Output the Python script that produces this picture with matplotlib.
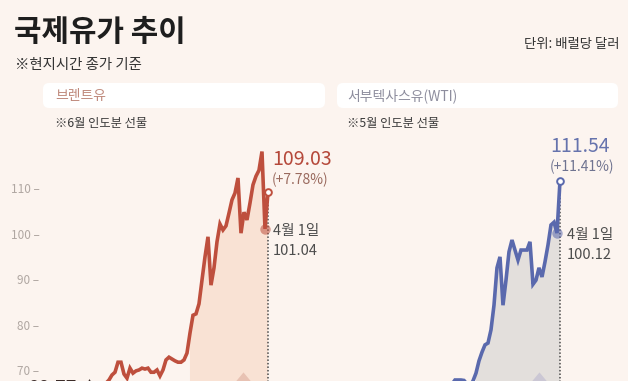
import numpy as np
import matplotlib
matplotlib.use('Agg')
import matplotlib.pyplot as plt
from matplotlib.patches import FancyBboxPatch
from matplotlib.transforms import IdentityTransform

plt.rcParams['font.family'] = ['Noto Sans CJK KR', 'DejaVu Sans']

# 종가 (거래일 순서, 마지막 두 값: 4월 1일, 최근)
brent = [65.3, 66.4, 67.2, 67.9, 69.0, 69.6, 71.8, 71.8, 69.2, 68.3,
         70.5, 69.4, 69.9, 70.1, 70.5, 70.3, 70.5, 69.6, 69.6, 70.1,
         68.8, 70.1, 72.3, 72.9, 72.5, 72.1, 71.8, 71.8, 72.3, 73.8,
         78.2, 82.1, 82.4, 84.6, 89.8, 94.9, 99.3, 88.7, 92.5, 98.2,
         102.1, 100.8, 101.7, 104.5, 107.4, 108.9, 112.2, 100.1, 104.7, 103.0,
         106.7, 110.7, 112.6, 113.9, 118.0, 101.04, 109.03]
wti = [64.8, 65.4, 66.0, 66.3, 66.8, 66.9, 66.9, 66.8, 65.9, 65.2,
       66.6, 66.0, 66.3, 66.5, 66.8, 66.6, 66.9, 66.2, 66.1, 66.4,
       67.0, 67.9, 67.9, 67.9, 67.8, 67.0, 66.6, 67.7, 69.4, 72.1,
       74.0, 75.6, 76.0, 78.9, 84.3, 92.5, 94.9, 84.3, 89.8, 96.0,
       98.6, 96.4, 94.2, 96.4, 96.4, 96.4, 98.2, 88.9, 89.8, 92.5,
       90.5, 93.8, 97.5, 101.9, 102.5, 100.12, 111.54]
brent_fill_from = 30
wti_fill_from = 28
brent_event = 47.7
wti_event = 49
yticks = [70, 80, 90, 100, 110]

brent_last = '109.03'
brent_chg = '(+7.78%)'
brent_apr1 = '101.04'
wti_last = '111.54'
wti_chg = '(+11.41%)'
wti_apr1 = '100.12'

bg = '#fcf4ef'
W, H = 628, 381

fig = plt.figure(figsize=(6.28, 3.81), dpi=100)
fig.patch.set_facecolor(bg)

def px(x, y):
    return x / W, 1 - y / H

# 제목
fig.text(*px(14, 32), '국제유가 추이', fontsize=21.5, fontweight='bold',
         color='#1e1e1e', va='center', ha='left')
fig.text(*px(15, 65), '※현지시간 종가 기준', fontsize=10.4, color='#333333',
         va='center', ha='left')
fig.text(*px(619, 44), '단위: 배럴당 달러', fontsize=9.6, color='#333333',
         va='center', ha='right')

# 헤더 박스
for x0, x1 in [(43, 325), (337, 618)]:
    box = FancyBboxPatch((x0, H - 108), x1 - x0, 25,
                         boxstyle='round,pad=0,rounding_size=6',
                         transform=IdentityTransform(), fc='white', ec='none')
    fig.add_artist(box)
fig.text(*px(55, 96), '브렌트유', fontsize=10, color='#c08a7c', va='center')
fig.text(*px(347, 96), '서부텍사스유(WTI)', fontsize=10, color='#8e8e9e', va='center')
fig.text(*px(55, 123), '※6월 인도분 선물', fontsize=8.8, color='#3a3a3a', va='center')
fig.text(*px(347, 123), '※5월 인도분 선물', fontsize=8.8, color='#3a3a3a', va='center')

# 잘린 하단 라벨
fig.text(*px(28, 379), '68.77 ▲', fontsize=13, fontweight='bold',
         color='#3b2b28', va='top', ha='left')


def panel(left, data, fill_from, event, line_c, fill_c, tri_c, last_c, chg_c,
          last_txt, chg_txt, apr_txt, last_off, chg_off, last_ha, apr_dx):
    ax = fig.add_axes([left / W, 0, 285 / W, 241 / H])
    ax.set_facecolor('none')
    for s in ax.spines.values():
        s.set_visible(False)
    x = np.arange(len(data))
    y = np.array(data)
    ax.set_xlim(-18.33, 76.67)
    ax.set_ylim(67.68, 120.53)
    ax.set_xticks([])

    ax.fill_between(x[fill_from:], y[fill_from:], 0, color=fill_c, lw=0, zorder=1)
    ax.plot([event], [67.0], marker=[(0, 0.6), (-1, -0.6), (1, -0.6)],
            markersize=29, color=tri_c, mec='none', zorder=2)
    ax.plot(x, y, color=line_c, lw=2.6, solid_joinstyle='miter', zorder=3)
    ax.vlines(x[-1], 0, y[-1], colors='#4a4a4a', linestyles=(0, (1, 1.3)),
              lw=1.1, zorder=2)
    ax.plot(x[-2], y[-2], 'o', ms=7.5, color=line_c, alpha=0.55, mec='none', zorder=4)
    ax.plot(x[-1], y[-1], 'o', ms=4.8, mfc='white', mec=line_c, mew=1.4, zorder=5)

    ax.annotate(last_txt, (x[-1], y[-1]), xytext=last_off, textcoords='offset pixels',
                fontsize=14, color=last_c, ha=last_ha, va='center')
    ax.annotate(chg_txt, (x[-1], y[-1]), xytext=chg_off, textcoords='offset pixels',
                fontsize=10, color=chg_c, ha=last_ha, va='center')
    ax.annotate('4월 1일', (x[-2], y[-2]), xytext=(apr_dx, -2), textcoords='offset pixels',
                fontsize=10.5, color='#4d4d4d', ha='left', va='center')
    ax.annotate(apr_txt, (x[-2], y[-2]), xytext=(apr_dx, -22), textcoords='offset pixels',
                fontsize=10.5, color='#4d4d4d', ha='left', va='center')
    return ax


ax1 = panel(45, brent, brent_fill_from, brent_event, '#be4f3d', '#f9e2d4', '#e8c2b3',
            '#b5483a', '#9a6a5e', brent_last, brent_chg, brent_apr1,
            (4, 33), (4, 13), 'left', 8)
ax1.set_yticks(yticks)
ax1.set_yticklabels([f'{t} –' for t in yticks])
ax1.tick_params(axis='y', length=0, pad=4, labelsize=8.5, labelcolor='#b0a7a2')

ax2 = panel(337, wti, wti_fill_from, wti_event, '#5a69ad', '#e3dfdc', '#cbc7d4',
            '#6673ad', '#6f7390', wti_last, wti_chg, wti_apr1,
            (20, 34), (22, 14), 'center', 10)
ax2.set_yticks([])

fig.savefig('out.png', dpi=100, facecolor=bg)
